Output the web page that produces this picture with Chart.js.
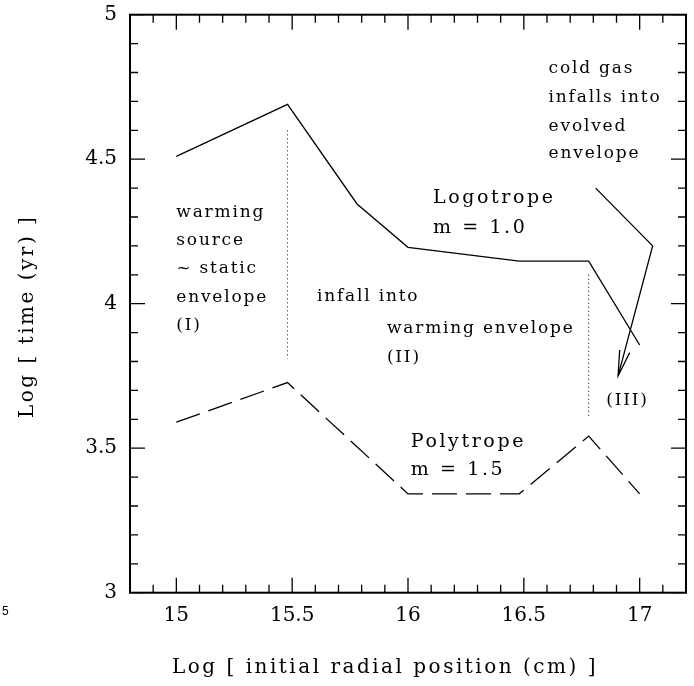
<!DOCTYPE html>
<html>
<head>
<meta charset="utf-8">
<script src="https://cdn.jsdelivr.net/npm/chart.js@4.4.1/dist/chart.umd.min.js"></script>
<style>
  html, body { margin: 0; padding: 0; background: #fff; }
  #wrap { width: 694px; height: 686px; }
</style>
</head>
<body>
<div id="wrap"><canvas id="timeChart" width="694" height="686"></canvas></div>
<script>
// Log radius (cm) vs log time (yr)
const logoRadius = [15.0, 15.48, 15.78, 16.0, 16.48, 16.78, 17.0];
const logoTime   = [4.51, 4.69, 4.345, 4.195, 4.147, 4.147, 3.857];

const polyRadius = [15.0, 15.48, 16.0, 16.48, 16.78, 17.0];
const polyTime   = [3.59, 3.727, 3.342, 3.342, 3.542, 3.342];

// vertical phase dividers
const divider1 = { x: [15.48, 15.48], y: [4.60, 3.81] };
const divider2 = { x: [16.78, 16.78], y: [4.10, 3.61] };

// arrow pointing at region (III)
const arrowX = [16.81, 17.056, 16.907];
const arrowY = [4.40, 4.20, 3.75];

// tick labels
const xTicks = [15, 15.5, 16, 16.5, 17];
const yTicks = [3, 3.5, 4, 4.5, 5];

// text notes (left edge, baseline) in data units
const notes = [
    { text: 'warming', x: 15.0, y: 4.301 },
    { text: 'source', x: 15.0, y: 4.203 },
    { text: '~ static', x: 15.0, y: 4.106 },
    { text: 'envelope', x: 15.0, y: 4.007 },
    { text: '(I)', x: 15.0, y: 3.909 },
    { text: 'infall into', x: 15.607, y: 4.008 },
    { text: 'warming envelope', x: 15.909, y: 3.899 },
    { text: '(II)', x: 15.909, y: 3.799 },
    { text: 'cold gas', x: 16.607, y: 4.797 },
    { text: 'infalls into', x: 16.607, y: 4.697 },
    { text: 'evolved', x: 16.607, y: 4.598 },
    { text: 'envelope', x: 16.607, y: 4.503 },
    { text: '(III)', x: 16.856, y: 3.649 }
];
const bigNotes = [
    { text: 'Logotrope', x: 16.108, y: 4.347 },
    { text: 'm = 1.0', x: 16.108, y: 4.246 },
    { text: 'Polytrope', x: 16.012, y: 3.505 },
    { text: 'm = 1.5', x: 16.012, y: 3.407 }
];

const SERIF = '"DejaVu Serif", "Liberation Serif", serif';

function toPoints(xs, ys) {
    return xs.map((x, i) => ({ x: x, y: ys[i] }));
}

// Draws the frame, inside ticks, notes, arrow head and axis titles
const framePlugin = {
    id: 'frame',
    afterDraw(chart) {
        const c = chart.ctx;
        const a = chart.chartArea;
        const xs = chart.scales.x;
        const ys = chart.scales.y;
        c.save();
        c.strokeStyle = '#000';
        c.fillStyle = '#000';

        // ticks on all four sides
        c.lineWidth = 1.3;
        for (let i = 148; i <= 172; i++) {
            const v = i / 10;
            const px = xs.getPixelForValue(v);
            const len = (i % 5 === 0) ? 15 : 8;
            c.beginPath();
            c.moveTo(px, a.bottom); c.lineTo(px, a.bottom - len);
            c.moveTo(px, a.top); c.lineTo(px, a.top + len);
            c.stroke();
        }
        for (let i = 30; i <= 50; i++) {
            const v = i / 10;
            const py = ys.getPixelForValue(v);
            const len = (i % 5 === 0) ? 15 : 8;
            c.beginPath();
            c.moveTo(a.left, py); c.lineTo(a.left + len, py);
            c.moveTo(a.right, py); c.lineTo(a.right - len, py);
            c.stroke();
        }

        // frame
        c.lineWidth = 2;
        c.strokeRect(a.left, a.top, a.right - a.left, a.bottom - a.top);

        // arrow head at the end of the arrow dataset
        const pts = chart.getDatasetMeta(4).data;
        const p1 = pts[pts.length - 2], p2 = pts[pts.length - 1];
        const ang = Math.atan2(p2.y - p1.y, p2.x - p1.x);
        const headLen = 26, spread = 0.2;
        c.lineWidth = 1.3;
        c.beginPath();
        c.moveTo(p2.x - headLen * Math.cos(ang - spread), p2.y - headLen * Math.sin(ang - spread));
        c.lineTo(p2.x, p2.y);
        c.lineTo(p2.x - headLen * Math.cos(ang + spread), p2.y - headLen * Math.sin(ang + spread));
        c.stroke();

        // notes
        c.textBaseline = 'alphabetic';
        c.textAlign = 'left';
        c.font = '17px ' + SERIF;
        c.letterSpacing = '1.8px';
        notes.forEach(n => c.fillText(n.text, xs.getPixelForValue(n.x), ys.getPixelForValue(n.y)));
        c.font = '19px ' + SERIF;
        c.letterSpacing = '2.6px';
        bigNotes.forEach(n => c.fillText(n.text, xs.getPixelForValue(n.x), ys.getPixelForValue(n.y)));

        // axis titles
        c.font = '20px ' + SERIF;
        c.letterSpacing = '2.5px';
        c.fillText('Log [ initial radial position (cm) ]', 172, 673);
        c.save();
        c.translate(33, 418);
        c.rotate(-Math.PI / 2);
        c.fillText('Log [ time (yr) ]', 0, 0);
        c.restore();

        // stray label at lower left
        c.letterSpacing = '0px';
        c.font = '12px "Liberation Sans", Arial, sans-serif';
        c.fillText('5', 2, 615);
        c.restore();
    }
};

const ctx = document.getElementById('timeChart').getContext('2d');

const lineStyle = {
    showLine: true,
    borderColor: '#000',
    borderWidth: 1.3,
    pointRadius: 0,
    tension: 0,
    fill: false
};

new Chart(ctx, {
    type: 'scatter',
    data: {
        datasets: [
            Object.assign({ label: 'Logotrope m = 1.0', data: toPoints(logoRadius, logoTime) }, lineStyle),
            Object.assign({ label: 'Polytrope m = 1.5', data: toPoints(polyRadius, polyTime), borderDash: [25, 9] }, lineStyle),
            Object.assign({ label: 'divider 1', data: toPoints(divider1.x, divider1.y), borderDash: [1, 3] }, lineStyle, { borderWidth: 1 }),
            Object.assign({ label: 'divider 2', data: toPoints(divider2.x, divider2.y), borderDash: [1, 3] }, lineStyle, { borderWidth: 1 }),
            Object.assign({ label: 'arrow', data: toPoints(arrowX, arrowY) }, lineStyle)
        ]
    },
    options: {
        responsive: false,
        animation: false,
        devicePixelRatio: 1,
        layout: { padding: { top: 14.7, right: 8, left: 0, bottom: 0 } },
        plugins: {
            legend: { display: false },
            tooltip: { enabled: false }
        },
        scales: {
            x: {
                type: 'linear',
                min: 14.8,
                max: 17.2,
                afterFit: s => { s.height = 93.3; s.paddingLeft = 0; s.paddingRight = 0; },
                afterBuildTicks: s => { s.ticks = xTicks.map(v => ({ value: v })); },
                grid: { display: false, drawTicks: false },
                border: { display: false },
                ticks: {
                    padding: 11,
                    maxRotation: 0,
                    color: '#000',
                    font: { family: SERIF, size: 20 },
                    callback: v => String(v)
                }
            },
            y: {
                type: 'linear',
                min: 3,
                max: 5,
                afterFit: s => { s.width = 130; s.paddingTop = 0; s.paddingBottom = 0; },
                afterBuildTicks: s => { s.ticks = yTicks.map(v => ({ value: v })); },
                grid: { display: false, drawTicks: false },
                border: { display: false },
                ticks: {
                    padding: 13,
                    color: '#000',
                    font: { family: SERIF, size: 20 },
                    callback: v => String(v)
                }
            }
        }
    },
    plugins: [framePlugin]
});
</script>
</body>
</html>
